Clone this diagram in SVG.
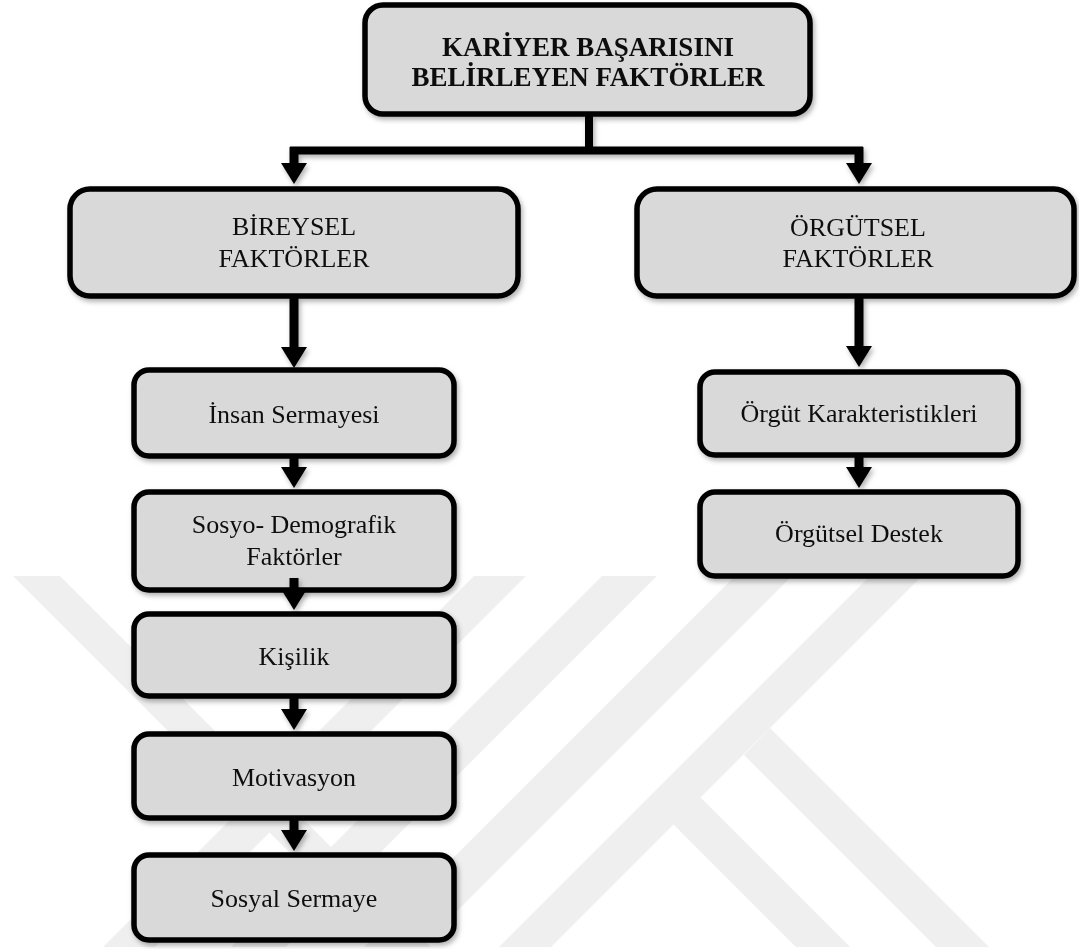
<svg xmlns="http://www.w3.org/2000/svg" width="1079" height="949" viewBox="0 0 1079 949">
  <style>
    .box { fill: #d9d9d9; stroke: #000; stroke-width: 5.5; }
    .t { font-family: "Liberation Serif", "Times New Roman", serif; font-size: 26px; fill: #111; text-anchor: middle; }
    .tb { font-weight: bold; font-size: 27px; }
    .ln { stroke: #000; stroke-width: 8; fill: none; }
    .ar { stroke: #000; stroke-width: 9; fill: none; marker-end: url(#head); }
    .wm { fill: #efefef; }
  </style>
  <defs>
    <marker id="head" markerUnits="userSpaceOnUse" markerWidth="22" markerHeight="26" viewBox="0 0 21 26" refX="1" refY="13" orient="auto">
      <path d="M0,0 L21,13 L0,26 Z" fill="#000"/>
    </marker>
    <filter id="sh" x="-10%" y="-10%" width="130%" height="140%">
      <feDropShadow dx="2" dy="3" stdDeviation="2.5" flood-color="#000" flood-opacity="0.3"/>
    </filter>
    <clipPath id="wmclip"><rect x="0" y="576" width="1079" height="371"/></clipPath>
  </defs>
  <rect x="0" y="0" width="1079" height="949" fill="#fff"/>

  <g id="watermark" clip-path="url(#wmclip)">
    <polygon class="wm" points="13,576 60,576 460,976 413,976"/>
    <polygon class="wm" points="474,576 526,576 126,976 74,976"/>
    <polygon class="wm" points="602,576 657,576 257,976 202,976"/>
    <polygon class="wm" points="735,576 792,576 392,976 335,976"/>
    <polygon class="wm" points="870,576 922,576 522,976 470,976"/>
    <polygon class="wm" points="744,755 770,728 1018,976 965,976"/>
    <polygon class="wm" points="672,823 700,797 879,976 825,976"/>
  </g>

  <g id="n-kariyer" filter="url(#sh)">
    <rect class="box" x="365" y="5" width="445" height="109" rx="18"/>
    <text class="t tb" x="588" y="56">KARİYER BAŞARISINI</text>
    <text class="t tb" x="588" y="86">BELİRLEYEN FAKTÖRLER</text>
  </g>
  <g id="n-bireysel" filter="url(#sh)">
    <rect class="box" x="70" y="189" width="448" height="107" rx="20"/>
    <text class="t" x="294" y="235">BİREYSEL</text>
    <text class="t" x="294" y="267">FAKTÖRLER</text>
  </g>
  <g id="n-orgutsel" filter="url(#sh)">
    <rect class="box" x="637" y="189" width="437" height="107" rx="20"/>
    <text class="t" x="858" y="236">ÖRGÜTSEL</text>
    <text class="t" x="858" y="267">FAKTÖRLER</text>
  </g>
  <g id="n-insan" filter="url(#sh)">
    <rect class="box" x="134" y="370" width="320" height="86" rx="15"/>
    <text class="t" x="294" y="423">İnsan Sermayesi</text>
  </g>
  <g id="n-sosyo" filter="url(#sh)">
    <rect class="box" x="134" y="492" width="320" height="98" rx="15"/>
    <text class="t" x="294" y="533">Sosyo- Demografik</text>
    <text class="t" x="294" y="565">Faktörler</text>
  </g>
  <g id="n-kisilik" filter="url(#sh)">
    <rect class="box" x="134" y="614" width="320" height="82" rx="15"/>
    <text class="t" x="294" y="665">Kişilik</text>
  </g>
  <g id="n-motivasyon" filter="url(#sh)">
    <rect class="box" x="134" y="734" width="320" height="84" rx="15"/>
    <text class="t" x="294" y="786">Motivasyon</text>
  </g>
  <g id="n-sosyal" filter="url(#sh)">
    <rect class="box" x="134" y="855" width="320" height="85" rx="15"/>
    <text class="t" x="294" y="907">Sosyal Sermaye</text>
  </g>
  <g id="n-orgut-kar" filter="url(#sh)">
    <rect class="box" x="700" y="372" width="318" height="83" rx="15"/>
    <text class="t" x="859" y="422">Örgüt Karakteristikleri</text>
  </g>
  <g id="n-destek" filter="url(#sh)">
    <rect class="box" x="700" y="492" width="318" height="84" rx="15"/>
    <text class="t" x="859" y="542">Örgütsel Destek</text>
  </g>

  <g id="connectors" filter="url(#sh)">
    <path class="ln" d="M589,116 V151"/>
    <path class="ln" d="M290,150.5 H863"/>
    <path class="ar" d="M294,147 V164"/>
    <path class="ar" d="M859,147 V164"/>
    <path class="ar" d="M294,298 V348"/>
    <path class="ar" d="M294,458 V468"/>
    <path class="ar" d="M294,578 V590"/>
    <path class="ar" d="M294,698 V710"/>
    <path class="ar" d="M294,820 V831"/>
    <path class="ar" d="M859,298 V347"/>
    <path class="ar" d="M859,457 V468"/>
  </g>
</svg>
